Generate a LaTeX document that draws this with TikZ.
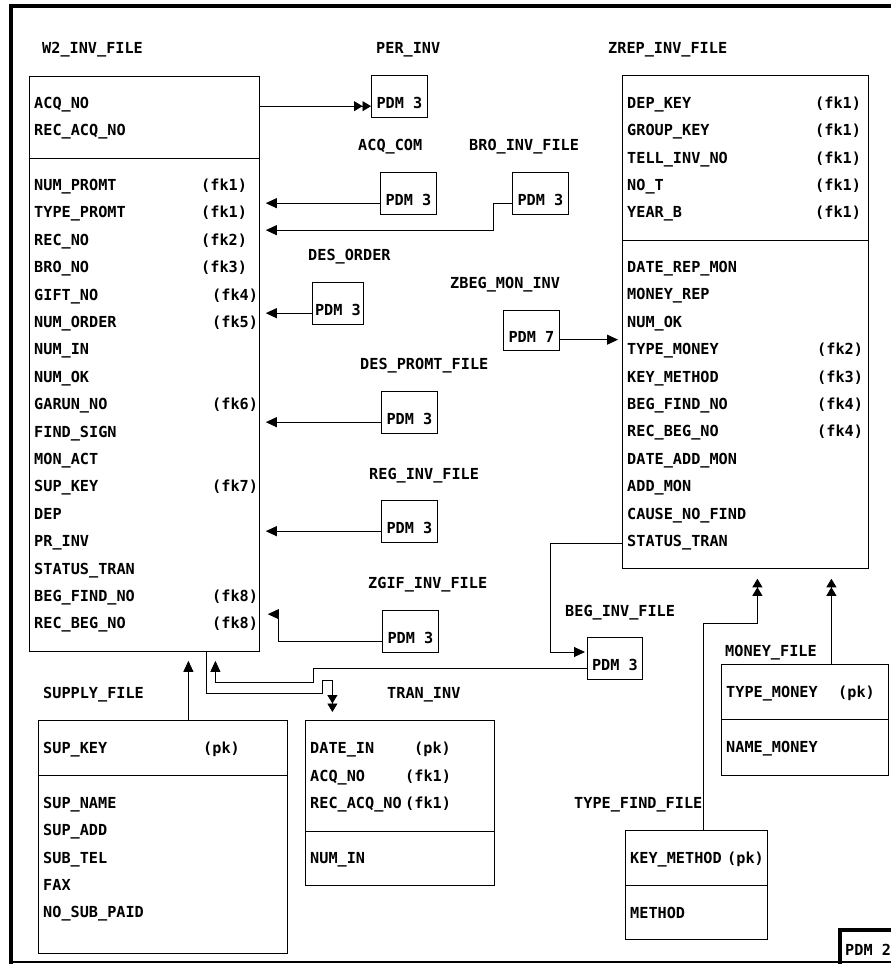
\documentclass[tikz,border=0pt]{standalone}
\usepackage{fontspec}
\setmainfont{DejaVu Sans Mono}
\usetikzlibrary{arrows.meta}

\tikzset{
  txt/.style={anchor=base west, inner sep=0pt},
  tbl/.style={draw, line width=0.8pt, anchor=north west, inner sep=0pt},
  pdm/.style={draw, line width=0.8pt, anchor=north west, minimum width=56pt,
    inner xsep=0pt, inner ysep=8.5pt, text height=25pt, text depth=0pt},
  fk/.style={line width=0.8pt, -{Triangle[length=11pt,width=10pt]}},
  many/.style={line width=0.8pt, -{Triangle[length=8.5pt,width=10pt]Triangle[length=8.5pt,width=10pt]}},
  sep/.style={line width=0.8pt},
}

\begin{document}
\begin{tikzpicture}[x=1pt,y=-1pt,font=\bfseries\fontsize{15.2}{18}\selectfont]
    \useasboundingbox (0,0) rectangle (891,964);
    \clip (0,0) rectangle (891,964);
    \fill[white] (0,0) rectangle (891,964);
    \draw[line width=3.5pt] (11,964) -- (11,6) -- (900,6);
    \draw[line width=1.5pt] (11,962) -- (900,962);

    % W2_INV_FILE
    \node[txt] (w2t) at (42,53.5) {W2\_INV\_FILE};
    \node[tbl, minimum width=230pt, minimum height=575pt] (w2) at (29,76) {};
    \draw[sep] (w2.west |- 0,158) -- (w2.east |- 0,158);
    \node[txt] (w2a) at (34,108.5) {ACQ\_NO};
    \node[txt] (w2b) at (34,135.5) {REC\_ACQ\_NO};
    \node[txt] (w2r1) at (34,190.5) {NUM\_PROMT};
    \node[txt] (w2r2) at (34,217.9) {TYPE\_PROMT};
    \node[txt] (w2r3) at (34,245.3) {REC\_NO};
    \node[txt] (w2r4) at (34,272.7) {BRO\_NO};
    \node[txt] (w2r5) at (34,300.1) {GIFT\_NO};
    \node[txt] (w2r6) at (34,327.5) {NUM\_ORDER};
    \node[txt] (w2r7) at (34,354.9) {NUM\_IN};
    \node[txt] (w2r8) at (34,382.3) {NUM\_OK};
    \node[txt] (w2r9) at (34,409.7) {GARUN\_NO};
    \node[txt] (w2r10) at (34,437.1) {FIND\_SIGN};
    \node[txt] (w2r11) at (34,464.5) {MON\_ACT};
    \node[txt] (w2r12) at (34,491.9) {SUP\_KEY};
    \node[txt] (w2r13) at (34,519.3) {DEP};
    \node[txt] (w2r14) at (34,546.7) {PR\_INV};
    \node[txt] (w2r15) at (34,574.1) {STATUS\_TRAN};
    \node[txt] (w2r16) at (34,601.5) {BEG\_FIND\_NO};
    \node[txt] (w2r17) at (34,628.9) {REC\_BEG\_NO};
    \node[txt] (w2k1) at (201,190.5) {(fk1)};
    \node[txt] (w2k2) at (201,217.9) {(fk1)};
    \node[txt] (w2k3) at (201,245.3) {(fk2)};
    \node[txt] (w2k4) at (201,272.7) {(fk3)};
    \node[txt] (w2k5) at (212,300.1) {(fk4)};
    \node[txt] (w2k6) at (212,327.5) {(fk5)};
    \node[txt] (w2k9) at (212,409.7) {(fk6)};
    \node[txt] (w2k12) at (212,491.9) {(fk7)};
    \node[txt] (w2k16) at (212,601.5) {(fk8)};
    \node[txt] (w2k17) at (212,628.9) {(fk8)};

    % ZREP_INV_FILE
    \node[txt] (zrt) at (608,53.5) {ZREP\_INV\_FILE};
    \node[tbl, minimum width=246pt, minimum height=493pt] (zrep) at (622,75) {};
    \draw[sep] (zrep.west |- 0,240) -- (zrep.east |- 0,240);
    \node[txt] (zra) at (627,108.5) {DEP\_KEY};
    \node[txt] (zrb) at (627,135.8) {GROUP\_KEY};
    \node[txt] (zrc) at (627,163) {TELL\_INV\_NO};
    \node[txt] (zrd) at (627,190.3) {NO\_T};
    \node[txt] (zre) at (627,217.5) {YEAR\_B};
    \node[txt] (zrka) at (815,108.5) {(fk1)};
    \node[txt] (zrkb) at (815,135.8) {(fk1)};
    \node[txt] (zrkc) at (815,163) {(fk1)};
    \node[txt] (zrkd) at (815,190.3) {(fk1)};
    \node[txt] (zrke) at (815,217.5) {(fk1)};
    \node[txt] (zr1) at (627,272.5) {DATE\_REP\_MON};
    \node[txt] (zr2) at (627,299.9) {MONEY\_REP};
    \node[txt] (zr3) at (627,327.3) {NUM\_OK};
    \node[txt] (zr4) at (627,354.7) {TYPE\_MONEY};
    \node[txt] (zr5) at (627,382.1) {KEY\_METHOD};
    \node[txt] (zr6) at (627,409.5) {BEG\_FIND\_NO};
    \node[txt] (zr7) at (627,436.9) {REC\_BEG\_NO};
    \node[txt] (zr8) at (627,464.3) {DATE\_ADD\_MON};
    \node[txt] (zr9) at (627,491.7) {ADD\_MON};
    \node[txt] (zr10) at (627,519.1) {CAUSE\_NO\_FIND};
    \node[txt] (zr11) at (627,546.5) {STATUS\_TRAN};
    \node[txt] (zrk4) at (817,354.7) {(fk2)};
    \node[txt] (zrk5) at (817,382.1) {(fk3)};
    \node[txt] (zrk6) at (817,409.5) {(fk4)};
    \node[txt] (zrk7) at (817,436.9) {(fk4)};

    % SUPPLY_FILE
    \node[txt] (supt) at (43,698.5) {SUPPLY\_FILE};
    \node[tbl, minimum width=249pt, minimum height=233pt] (supply) at (38,720) {};
    \draw[sep] (supply.west |- 0,775) -- (supply.east |- 0,775);
    \node[txt] (sup1) at (43,753.5) {SUP\_KEY};
    \node[txt] (supk) at (203,753.5) {(pk)};
    \node[txt] (sup2) at (43,808.5) {SUP\_NAME};
    \node[txt] (sup3) at (43,835.8) {SUP\_ADD};
    \node[txt] (sup4) at (43,863.2) {SUB\_TEL};
    \node[txt] (sup5) at (43,890.5) {FAX};
    \node[txt] (sup6) at (43,917.9) {NO\_SUB\_PAID};

    % TRAN_INV
    \node[txt] (trant) at (387,698.5) {TRAN\_INV};
    \node[tbl, minimum width=189pt, minimum height=165pt] (tran) at (305,720) {};
    \draw[sep] (tran.west |- 0,831) -- (tran.east |- 0,831);
    \node[txt] (tran1) at (310,753.5) {DATE\_IN};
    \node[txt] (tran2) at (310,781) {ACQ\_NO};
    \node[txt] (tran3) at (310,808.5) {REC\_ACQ\_NO};
    \node[txt] (trank1) at (414,753.5) {(pk)};
    \node[txt] (trank2) at (405,781) {(fk1)};
    \node[txt] (trank3) at (405,808.5) {(fk1)};
    \node[txt] (tran4) at (310,863.5) {NUM\_IN};

    % MONEY_FILE
    \node[txt] (mont) at (725,656.5) {MONEY\_FILE};
    \node[tbl, minimum width=167pt, minimum height=111pt] (money) at (721,664) {};
    \draw[sep] (money.west |- 0,719) -- (money.east |- 0,719);
    \node[txt] (mon1) at (726,697.5) {TYPE\_MONEY};
    \node[txt] (monk) at (838,697.5) {(pk)};
    \node[txt] (mon2) at (726,752.5) {NAME\_MONEY};

    % TYPE_FIND_FILE
    \node[txt] (tft) at (574,808.5) {TYPE\_FIND\_FILE};
    \node[tbl, minimum width=142pt, minimum height=109pt] (typefind) at (625,830) {};
    \draw[sep] (typefind.west |- 0,885) -- (typefind.east |- 0,885);
    \node[txt] (tf1) at (630,863.5) {KEY\_METHOD};
    \node[txt] (tfk) at (727,863.5) {(pk)};
    \node[txt] (tf2) at (630,918.5) {METHOD};

    % PDM references
    \node[txt] (perinvt) at (376,53.5) {PER\_INV};
    \node[pdm] (perinv) at (371,75) {PDM 3};
    \node[txt] (acqcomt) at (358,150.5) {ACQ\_COM};
    \node[pdm] (acqcom) at (380,172) {PDM 3};
    \node[txt] (broinvt) at (469,150.5) {BRO\_INV\_FILE};
    \node[pdm] (broinv) at (512,172) {PDM 3};
    \node[txt] (desordert) at (308,260.5) {DES\_ORDER};
    \node[pdm, minimum width=51pt] (desorder) at (312,282) {PDM 3};
    \node[txt] (zbegmont) at (450,288.5) {ZBEG\_MON\_INV};
    \node[pdm, inner ysep=8pt, text height=24pt] (zbegmon) at (503,310) {PDM 7};
    \node[txt] (despromtt) at (360,369.5) {DES\_PROMT\_FILE};
    \node[pdm] (despromt) at (381,391) {PDM 3};
    \node[txt] (reginvt) at (369,479.5) {REG\_INV\_FILE};
    \node[pdm] (reginv) at (381,500) {PDM 3};
    \node[txt] (zgifinvt) at (368,588.5) {ZGIF\_INV\_FILE};
    \node[pdm] (zgifinv) at (382,610) {PDM 3};
    \node[txt] (beginvt) at (565,616.5) {BEG\_INV\_FILE};
    \node[pdm, minimum width=55pt] (beginv) at (587,637) {PDM 3};

    \draw[line width=3.5pt] (840,970) -- (840,930) -- (900,930);
    \node[txt] (pdm2) at (845,955) {PDM 2};

    % connectors
    \draw[many] (w2.east |- perinv.mid west) -- (perinv.mid west);
    \draw[fk, shorten >=6pt] (acqcom.mid west) -- (acqcom.mid west -| w2.east);
    \draw[fk, shorten >=6pt] (broinv.mid west) -| ++(-19,27) coordinate (brobend) -- (brobend -| w2.east);
    \draw[fk, shorten >=6pt] (desorder.mid west) -- (desorder.mid west -| w2.east);
    \draw[fk, shorten >=4pt] (zbegmon.mid east) -- (zbegmon.mid east -| zrep.west);
    \draw[fk, shorten >=6pt] (despromt.mid west) -- (despromt.mid west -| w2.east);
    \draw[fk, shorten >=6pt] (reginv.mid west) -- (reginv.mid west -| w2.east);
    \draw[fk, shorten >=8pt] (zgifinv.mid west) -| ++(-104,-27) coordinate (zgifbend) -- (zgifbend -| w2.east);
    \draw[fk, shorten >=2pt] (zrep.west |- zr11.mid) -- ++(-72,0) |- ([yshift=-15pt]beginv.north west);
    \draw[fk, shorten >=9pt] (beginv.mid west) -| ++(-274,14) -| ([xshift=71pt]w2.south);
    \draw[many, shorten >=8pt] ([xshift=62pt]w2.south) -- ++(0,42) -- ++(116,0) -- ++(0,-13) -- ++(10,0) -- ([xshift=-67.5pt]tran.north);
    \draw[fk, shorten >=9pt] ([xshift=25.5pt]supply.north) -- ([xshift=25.5pt]supply.north |- w2.south);
    \draw[many, shorten >=10pt] ([xshift=7pt]typefind.north) -- ++(0,-207) -| ([xshift=12pt]zrep.south);
    \draw[many, shorten >=10pt] ([xshift=26.5pt]money.north) -- ([xshift=86pt]zrep.south);
\end{tikzpicture}
\end{document}
